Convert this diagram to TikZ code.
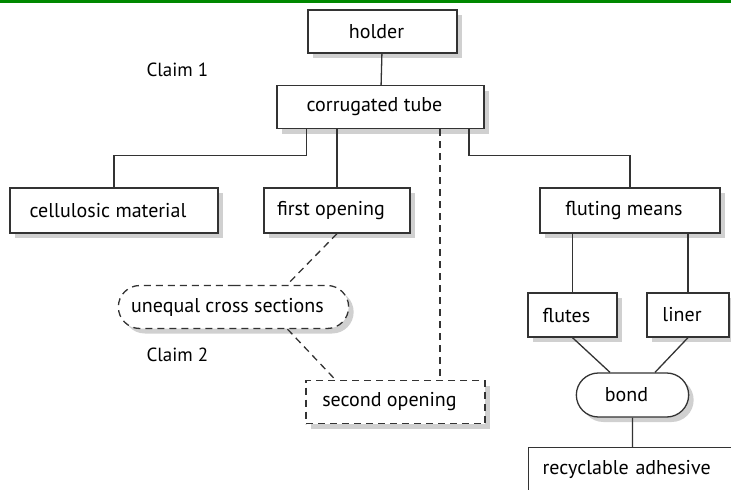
\documentclass[tikz,border=0pt]{standalone}
\usepackage{fontspec}
\setmainfont{PT Sans}
\usetikzlibrary{shapes.misc,positioning}
\definecolor{topgreen}{RGB}{0,136,0}
\definecolor{shadowgray}{RGB}{208,208,208}
\tikzset{
  plain box/.style={
    draw=black!80,
    line width=1.3pt,
    fill=white,
    minimum width={#1pt},
    minimum height={43pt},
    font=\fontsize{20}{23}\selectfont,
    execute at begin node={\hspace*{-12pt}},
    preaction={fill=shadowgray, draw=none, transform canvas={xshift=5pt, yshift=-5pt}},
  },
  dashed box/.style={
    plain box=#1,
    dash pattern=on 7pt off 5pt,
  },
  round box/.style={
    plain box=#1,
    rounded rectangle,
  },
  link/.style={
    draw=black!80,
    line width=1.3pt,
  },
  dashed link/.style={
    link,
    dash pattern=on 7pt off 5pt,
  },
  claim/.style={
    anchor=west,
    font=\fontsize{19}{22}\selectfont,
  }
}

\begin{document}
\begin{tikzpicture}[x=1pt, y=-1pt]
        \useasboundingbox (0,0) rectangle (731,490);
        \clip (0,0) rectangle (731,490);
        \fill [topgreen] (0,0) rectangle (731,2.5);

        \node [plain box=149] (holder) at (382.5,31.5) {holder};
        \node [plain box=207] (tube) at (380.5,107) {corrugated tube};
        \node [plain box=208, minimum height=45pt] (cellulose) at (114,210.5) {cellulosic material};
        \node [plain box=146, minimum height=45pt] (first) at (337,210.5) {first opening};
        \node [plain box=180, minimum height=45pt] (fluting) at (630,210.5) {fluting means};
        \node [dashed box=237, rounded rectangle] (unequal) at (233.5,307) {unequal cross sections};
        \node [dashed box=179] (second) at (395.5,402) {second opening};
        \node [plain box=89, minimum height=44pt] (flutes) at (572.5,315) {flutes};
        \node [plain box=82, minimum height=44pt] (liner) at (688,315) {liner};
        \node [round box=119, minimum height=44pt] (bond) at (632.5,395) {bond};
        \node [plain box=220, anchor=north west, text width=180pt, align=left, inner xsep=26pt] (adhesive) at (528,447) {recyclable adhesive};

        \node [claim] (claim1) at (143,70) {Claim 1};
        \node [claim] (claim2) at (143,355) {Claim 2};

        \coordinate (drop) at ([xshift=59.5pt]tube.south);

        \draw [link] (holder) -- (tube);
        \draw [link] ([xshift=-74pt]tube.south) -- ++(0,26) -| (cellulose);
        \draw [link] (first) -- (first |- tube.south);
        \draw [link] ([xshift=88.5pt]tube.south) -- ++(0,26) -| (fluting);
        \draw [dashed link] (drop) -- (drop |- second.north);
        \draw [dashed link] (first.south) -- ([xshift=53.5pt]unequal.north);
        \draw [dashed link] ([xshift=54pt]unequal.south) -- ([xshift=-60pt]second.north);
        \draw [link] (flutes) -- (flutes |- fluting.south);
        \draw [link] (liner) -- (liner |- fluting.south);
        \draw [link] (flutes.south) -- ([xshift=-22.5pt]bond.north);
        \draw [link] (liner.south) -- ([xshift=22.5pt]bond.north);
        \draw [link] (bond) -- (bond |- adhesive.north);
    \end{tikzpicture}
\end{document}
